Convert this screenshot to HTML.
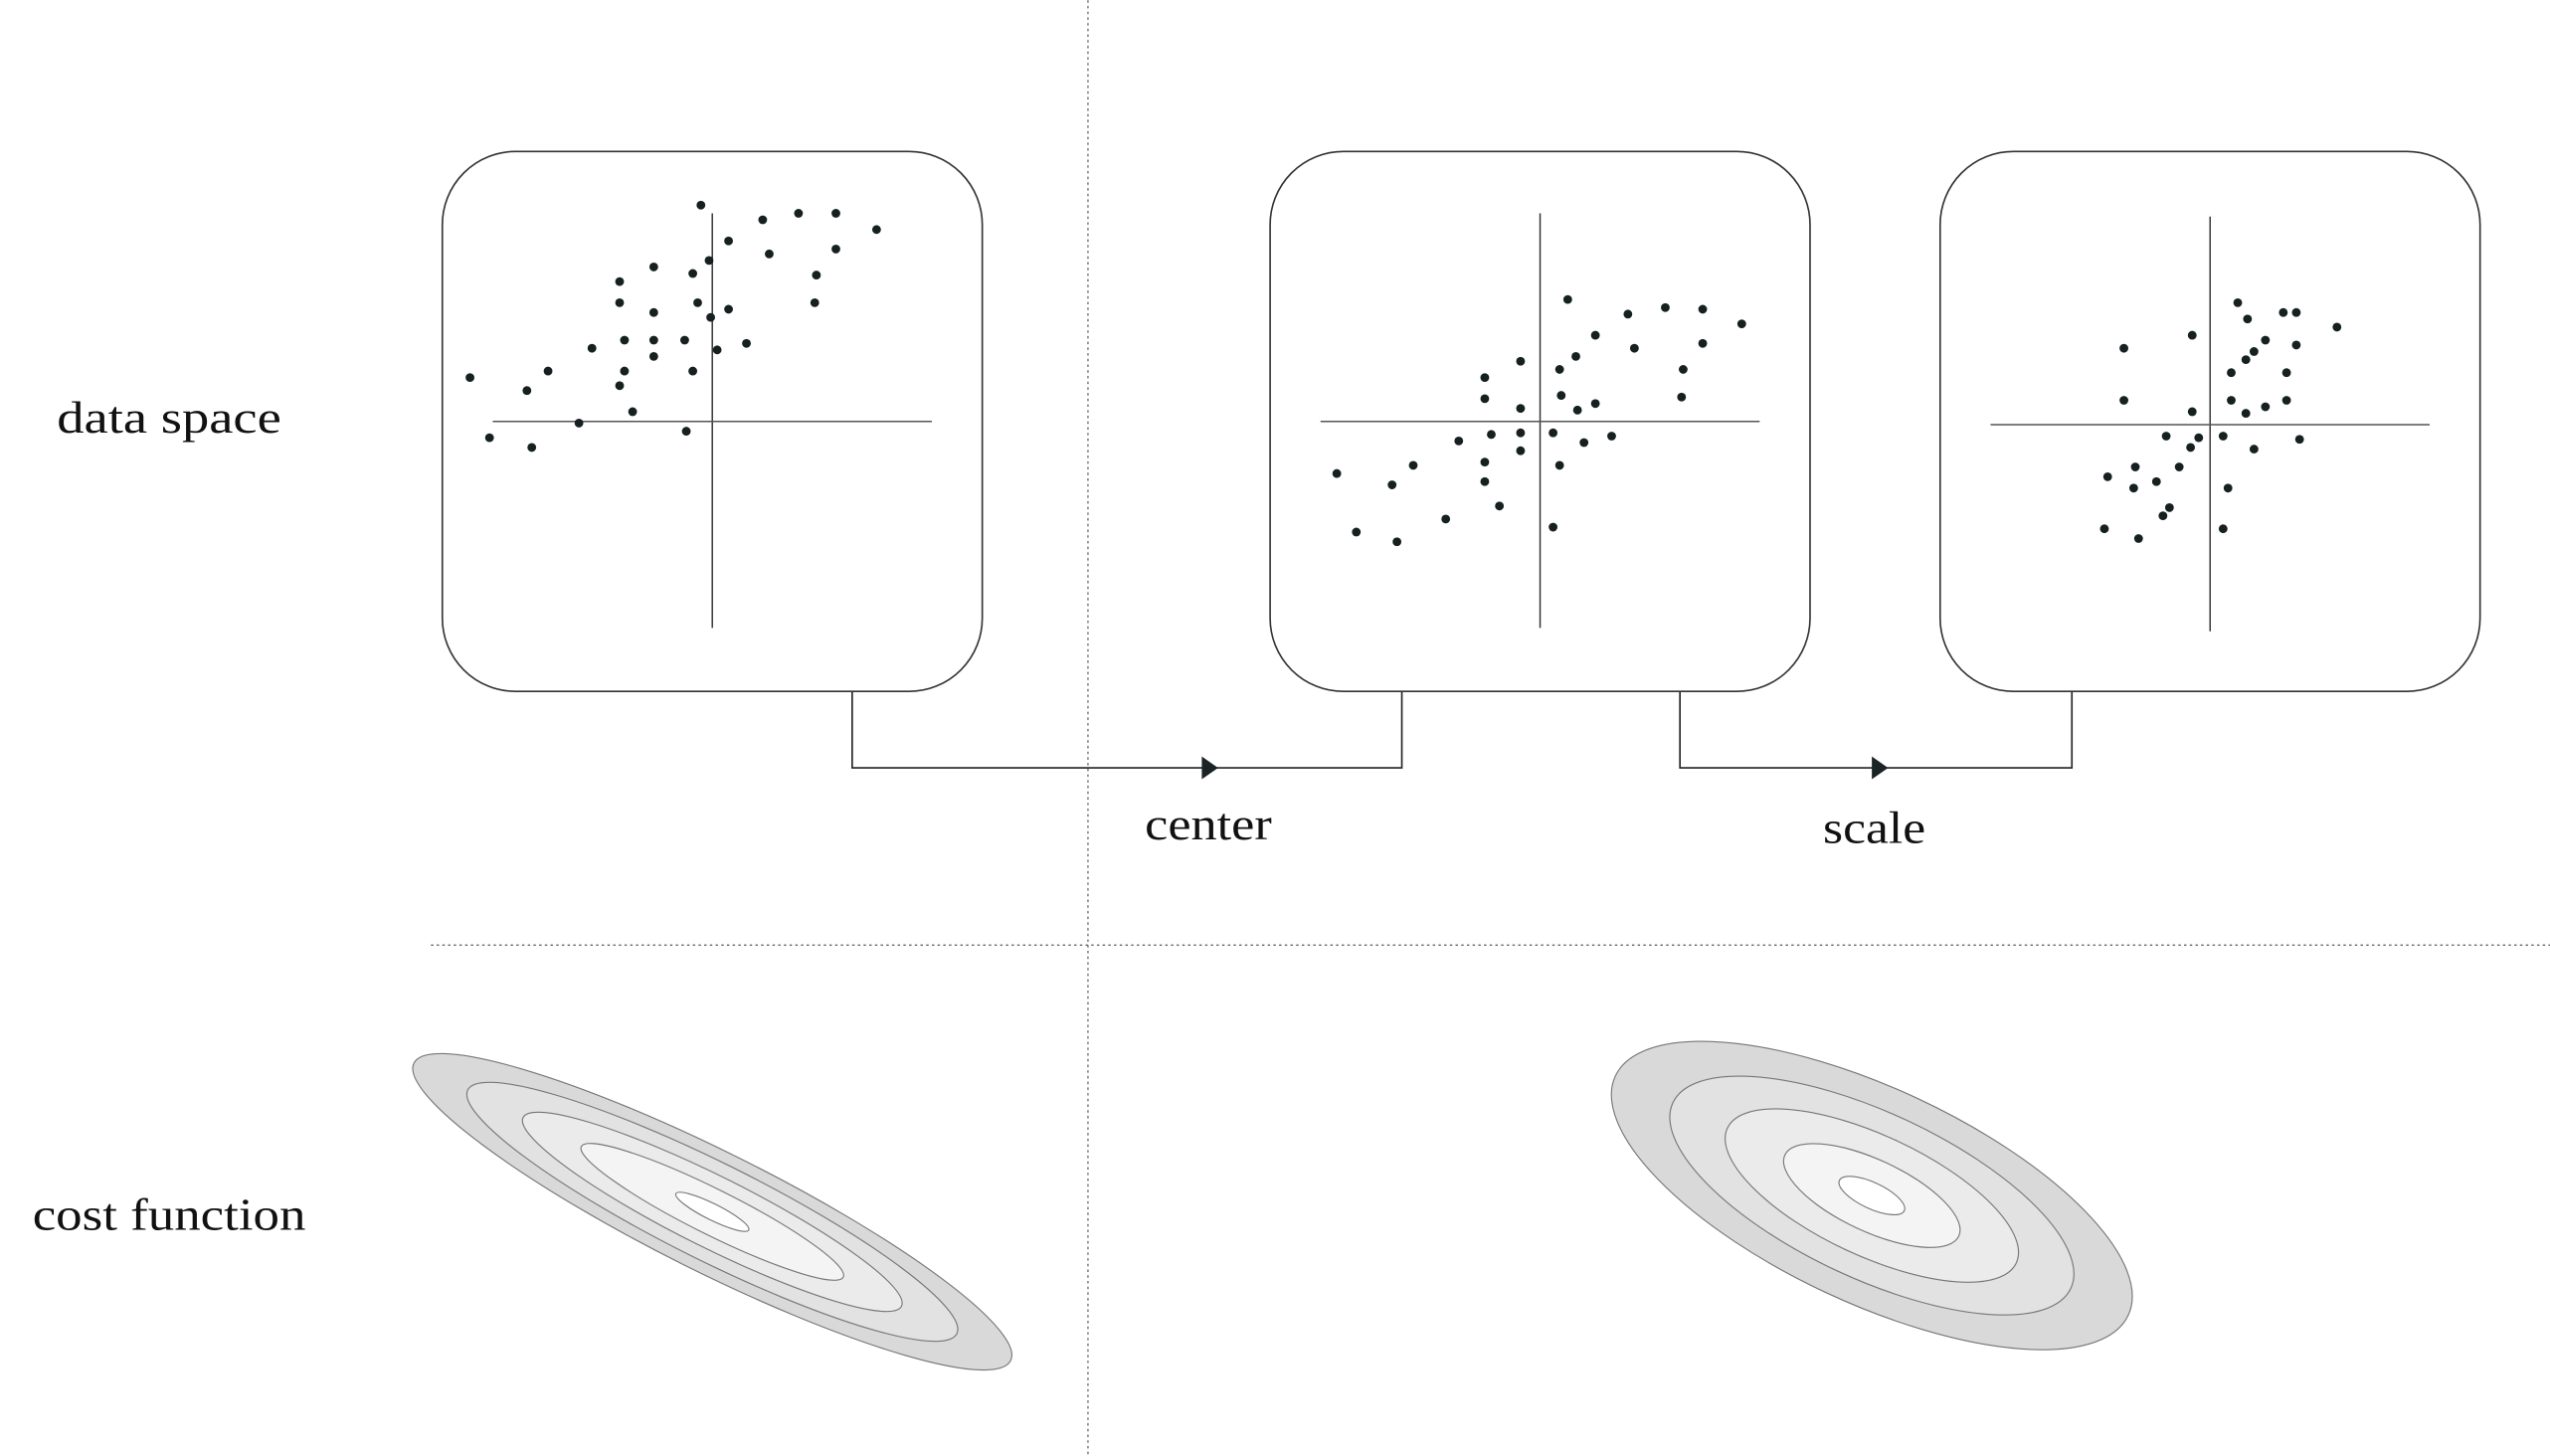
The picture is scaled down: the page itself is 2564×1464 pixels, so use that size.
<!DOCTYPE html>
<html><head><meta charset="utf-8"><style>
html,body{margin:0;padding:0;background:#fff;}
svg{display:block;}
text{font-family:"Liberation Serif",serif;fill:#111;}
</style></head><body>
<svg id="fig" width="2564" height="1464" viewBox="0 0 1568 895" xmlns="http://www.w3.org/2000/svg">
<line x1="669" y1="0" x2="669" y2="895" stroke="#666" stroke-width="0.8" stroke-dasharray="1.5,2"/>
<line x1="265" y1="581" x2="1568" y2="581" stroke="#666" stroke-width="0.8" stroke-dasharray="1.5,2"/>
<text x="35" y="266" font-size="28" textLength="138" lengthAdjust="spacingAndGlyphs">data space</text>
<text x="20" y="756" font-size="28" textLength="168" lengthAdjust="spacingAndGlyphs">cost function</text>
<text x="704" y="516" font-size="28" textLength="78" lengthAdjust="spacingAndGlyphs">center</text>
<text x="1121" y="518" font-size="28" textLength="63" lengthAdjust="spacingAndGlyphs">scale</text>
<g fill="none" stroke="#222" stroke-width="1">
<polyline points="524,425 524,472 862,472 862,425"/>
<polyline points="1033,425 1033,472 1274,472 1274,425"/>
</g>
<polygon points="739,465 749,472 739,479" fill="#1a2424"/>
<polygon points="1151,465 1161,472 1151,479" fill="#1a2424"/>
<g id="panels"></g>
<g id="costs"></g>
</svg>
<script>
const rawX=[431,469,491,514,539,448,514,473,402,436,426,381,502,381,429,448,402,437,501,384,402,421,459,364,441,402,384,426,337,289,381,324,389,356,422,301,327];
const rawY=[126,135,131,131,141,148,153,156,164,160,168,173,169,186,186,190,192,195,186,209,209,209,211,214,215,219,228,228,228,232,237,240,253,260,265,269,275];
const cenX=[964,1001,1024,1047,1071,981,1047,1005,969,935,959,913,1035,913,960,981,935,970,1034,917,935,955,991,897,974,935,913,959,869,822,913,856,922,889,955,834,859];
const cenY=[184,193,189,190,199,206,211,214,219,222,227,232,227,245,243,248,251,252,244,267,266,266,268,271,272,277,284,286,286,291,296,298,311,319,324,327,333];
const sclX=[1376,1404,1412,1437,1382,1348,1393,1386,1412,1306,1381,1372,1406,1306,1372,1393,1406,1348,1381,1367,1332,1414,1352,1386,1347,1313,1340,1296,1326,1312,1370,1334,1330,1294,1367,1315];
const sclY=[186,192,192,201,196,206,209,216,212,214,221,229,229,246,246,250,246,253,254,268,268,270,269,276,275,287,287,293,296,300,300,312,317,325,325,331];
const ns="http://www.w3.org/2000/svg";
function mk(t,a,p){const e=document.createElementNS(ns,t);for(const k in a)e.setAttribute(k,a[k]);p.appendChild(e);return e;}
const panels=[{x:272,ax:438,ay:259,xs:rawX,ys:rawY,n:'raw'},{x:781,ax:947,ay:259,xs:cenX,ys:cenY,n:'centered'},{x:1193,ax:1359,ay:261,xs:sclX,ys:sclY,n:'scaled'}];
const pg=document.getElementById('panels');
panels.forEach(p=>{
 const g=mk('g',{},pg);
 
 
 const r=mk('rect',{x:p.x,y:93,width:332,height:332,rx:45,ry:45,fill:'#fff',stroke:'#333','stroke-width':1},g);
 
 
 const v=mk('line',{x1:p.ax,x2:p.ax,y1:p.ay-128,y2:p.ay+127,stroke:'#333','stroke-width':0.9},g);
 
 
 const h=mk('line',{x1:p.x+31,x2:p.x+301,y1:p.ay,y2:p.ay,stroke:'#555','stroke-width':0.9},g);
 
 
 p.xs.forEach((x,i)=>{
  const c=mk('circle',{cx:x,cy:p.ys[i],r:2.7,fill:'#162020'},g);
  
  
 });
});
const fills=['#d9d9d9','#e2e2e2','#ebebeb','#f4f4f4','#ffffff'];
const leftRx=[205,168,130,90,25],leftRy=[37,30,22,14,5];
const rightRx=[174,135,98,59,22],rightRy=[66,51,37,22,8];
const cg=document.getElementById('costs');
[{cx:438,cy:745,a:26.5,rx:leftRx,ry:leftRy,n:'raw-cost'},{cx:1151,cy:735,a:25,rx:rightRx,ry:rightRy,n:'scaled-cost'}].forEach(c=>{
 const g=mk('g',{transform:`rotate(${c.a} ${c.cx} ${c.cy})`},cg);
 
 
 c.rx.forEach((rx,i)=>{
  const e=mk('ellipse',{cx:c.cx,cy:c.cy,rx:rx,ry:c.ry[i],fill:fills[i],stroke:'#777','stroke-width':0.7},g);
  
  
 });
});
</script>
</body></html>
